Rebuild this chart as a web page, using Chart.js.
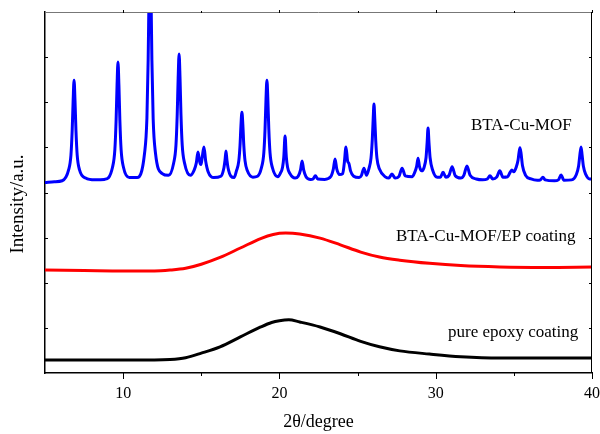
<!DOCTYPE html>
<html>
<head>
<meta charset="utf-8">
<script src="https://cdn.jsdelivr.net/npm/chart.js@4.4.1/dist/chart.umd.min.js"></script>
<style>
  html, body { margin: 0; padding: 0; background: #fff; }
  #wrap { width: 600px; height: 434px; position: relative; }
</style>
</head>
<body>
<div id="wrap"><canvas id="xrd"></canvas></div>
<script>
// 2θ ticks on the bottom axis
const xTicks = [10, 20, 30, 40];
const xMinorTicks = [15, 25, 35];
const yTicks = [1, 2, 3, 4, 5, 6, 7];

const seriesNames = ['BTA-Cu-MOF', 'BTA-Cu-MOF/EP coating', 'pure epoxy coating'];

// pure epoxy coating: [2θ, intensity (offset, a.u.)]
const epoxyScan = [
  [5.0, 0.29], [7.0, 0.29], [10.0, 0.29], [12.0, 0.29], [13.0, 0.3], [14.0, 0.34],
  [15.0, 0.44], [16.2, 0.58], [17.5, 0.8], [18.8, 1.02], [19.5, 1.12], [20.0, 1.16],
  [20.6, 1.18], [21.3, 1.13], [22.6, 1.02], [23.9, 0.87], [25.2, 0.7], [26.4, 0.58],
  [27.7, 0.49], [29.6, 0.42], [31.6, 0.36], [34.1, 0.33], [37.0, 0.33], [40.0, 0.33]
];

// BTA-Cu-MOF/EP coating
const compositeScan = [
  [5.0, 2.28], [7.5, 2.27], [10.0, 2.26], [12.0, 2.26], [13.0, 2.28], [14.0, 2.32],
  [15.0, 2.41], [16.2, 2.56], [17.5, 2.77], [18.8, 2.98], [19.6, 3.07], [20.4, 3.1],
  [21.3, 3.08], [22.6, 2.99], [23.9, 2.84], [25.2, 2.68], [26.4, 2.57], [27.7, 2.5],
  [29.6, 2.43], [31.6, 2.38], [34.1, 2.35], [37.0, 2.34], [40.0, 2.35]
];

// BTA-Cu-MOF powder
const mofScan = [
  [5.0, 4.22], [5.6, 4.24], [6.1, 4.26],
  [6.51, 4.5], [6.66, 4.83], [6.74, 5.38], [6.8, 6.03], [6.86, 6.49], [6.92, 6.03], [6.98, 5.38], [7.06, 4.83], [7.21, 4.5],
  [7.6, 4.32], [8.2, 4.28], [8.8, 4.29],
  [9.32, 4.56], [9.47, 4.95], [9.55, 5.6], [9.61, 6.37], [9.67, 6.89], [9.73, 6.37], [9.79, 5.6], [9.87, 4.95], [10.02, 4.56],
  [10.4, 4.33], [10.9, 4.33],
  [11.37, 4.87], [11.52, 5.64], [11.6, 6.93], [11.66, 8.47], [11.72, 9.5], [11.78, 8.47], [11.84, 6.93], [11.92, 5.64], [12.07, 4.87],
  [12.5, 4.42], [12.9, 4.38],
  [13.23, 4.65], [13.38, 5.05], [13.46, 5.73], [13.52, 6.53], [13.58, 7.07], [13.64, 6.53], [13.7, 5.73], [13.78, 5.05], [13.93, 4.65],
  [14.3, 4.38], [14.55, 4.5], [14.68, 4.65], [14.79, 4.9], [14.9, 4.68], [14.98, 4.62], [15.06, 4.78], [15.17, 5.01], [15.28, 4.7],
  [15.45, 4.45], [15.8, 4.33],
  [16.25, 4.36], [16.45, 4.55], [16.52, 4.72], [16.58, 4.92], [16.64, 4.72], [16.71, 4.55], [16.9, 4.36], [17.1, 4.33],
  [17.25, 4.48], [17.4, 4.7], [17.48, 5.05], [17.54, 5.5], [17.6, 5.78], [17.66, 5.5], [17.72, 5.05], [17.8, 4.7], [17.95, 4.48],
  [18.3, 4.34], [18.6, 4.36],
  [18.85, 4.55], [19.0, 4.87], [19.08, 5.41], [19.14, 6.06], [19.2, 6.49], [19.26, 6.06], [19.32, 5.41], [19.4, 4.87], [19.55, 4.55],
  [19.9, 4.35], [20.05, 4.42], [20.2, 4.56], [20.28, 4.79], [20.36, 5.25], [20.44, 4.79], [20.52, 4.56], [20.67, 4.42],
  [21.0, 4.32], [21.2, 4.36], [21.35, 4.5], [21.45, 4.7], [21.55, 4.5], [21.7, 4.35], [22.0, 4.29],
  [22.15, 4.3], [22.3, 4.37], [22.45, 4.3], [22.9, 4.29],
  [23.3, 4.36], [23.45, 4.52], [23.56, 4.74], [23.67, 4.52], [23.85, 4.4], [24.05, 4.42],
  [24.15, 4.65], [24.26, 5.01], [24.36, 4.7], [24.45, 4.64], [24.55, 4.48], [24.75, 4.36], [25.1, 4.33],
  [25.25, 4.38], [25.41, 4.54], [25.57, 4.38],
  [25.72, 4.52], [25.86, 4.76], [25.94, 5.16], [26.0, 5.64], [26.05, 5.96], [26.1, 5.64], [26.16, 5.16], [26.24, 4.76], [26.4, 4.52],
  [26.8, 4.34], [27.0, 4.32], [27.2, 4.41], [27.4, 4.32],
  [27.65, 4.36], [27.85, 4.54], [28.05, 4.37], [28.5, 4.35],
  [28.65, 4.44], [28.78, 4.58], [28.87, 4.76], [28.96, 4.58], [29.1, 4.48],
  [29.25, 4.55], [29.38, 4.77], [29.45, 5.1], [29.51, 5.43], [29.57, 5.1], [29.64, 4.77], [29.8, 4.5],
  [30.1, 4.34], [30.3, 4.34], [30.47, 4.45], [30.65, 4.34],
  [30.85, 4.38], [31.05, 4.57], [31.25, 4.37], [31.6, 4.32],
  [31.8, 4.38], [32.0, 4.59], [32.2, 4.38], [32.6, 4.3], [33.0, 4.28],
  [33.3, 4.3], [33.47, 4.37], [33.65, 4.3],
  [33.9, 4.34], [34.1, 4.48], [34.3, 4.34], [34.6, 4.35],
  [34.75, 4.44], [34.87, 4.5], [35.0, 4.46],
  [35.15, 4.56], [35.27, 4.72], [35.33, 4.88], [35.39, 4.99], [35.46, 4.87], [35.55, 4.6], [35.75, 4.38],
  [36.1, 4.3], [36.5, 4.27], [36.7, 4.28], [36.86, 4.34], [37.0, 4.28], [37.6, 4.26],
  [37.85, 4.28], [38.02, 4.39], [38.2, 4.27], [38.7, 4.28],
  [39.0, 4.4], [39.14, 4.58], [39.22, 4.82], [39.3, 5.01], [39.37, 4.82], [39.45, 4.58], [39.6, 4.4],
  [39.85, 4.3], [40.0, 4.3]
];

const toPoints = scan => scan.map(p => ({ x: p[0], y: p[1] }));

const serif = '"Liberation Serif", "Times New Roman", serif';

// frame, ticks and the curve labels
const framePlugin = {
  id: 'frame',
  afterDraw(chart) {
    const ctx = chart.ctx;
    const xs = chart.scales.x;
    const ys = chart.scales.y;
    const a = chart.chartArea;
    ctx.save();
    // top (grey) and right borders
    ctx.lineWidth = 1;
    ctx.strokeStyle = '#777';
    ctx.beginPath(); ctx.moveTo(a.left, a.top + 0.5); ctx.lineTo(a.right, a.top + 0.5); ctx.stroke();
    ctx.strokeStyle = '#000';
    ctx.beginPath(); ctx.moveTo(a.right - 0.5, a.top); ctx.lineTo(a.right - 0.5, a.bottom); ctx.stroke();

    // bottom ticks point outward, top ones tiny
    xTicks.forEach(v => {
      const px = Math.round(xs.getPixelForValue(v)) + 0.5;
      ctx.beginPath(); ctx.moveTo(px, a.bottom); ctx.lineTo(px, a.bottom + 6); ctx.stroke();
      ctx.beginPath(); ctx.moveTo(px, a.top + 1); ctx.lineTo(px, a.top - 2); ctx.stroke();
    });
    xMinorTicks.forEach(v => {
      const px = Math.round(xs.getPixelForValue(v)) + 0.5;
      ctx.beginPath(); ctx.moveTo(px, a.bottom); ctx.lineTo(px, a.bottom + 3); ctx.stroke();
      ctx.beginPath(); ctx.moveTo(px, a.top + 1); ctx.lineTo(px, a.top - 1); ctx.stroke();
    });
    // left / right ticks point inward
    yTicks.forEach(v => {
      const py = Math.round(ys.getPixelForValue(v)) + 0.5;
      ctx.beginPath(); ctx.moveTo(a.left, py); ctx.lineTo(a.left + 3, py); ctx.stroke();
      ctx.beginPath(); ctx.moveTo(a.right, py); ctx.lineTo(a.right - 3, py); ctx.stroke();
    });

    ctx.fillStyle = '#000';
    ctx.font = '17px ' + serif;
    ctx.textBaseline = 'middle';
    ctx.textAlign = 'left';
    ctx.fillText(seriesNames[0], 471, 126);
    ctx.fillText(seriesNames[1], 396, 237);
    ctx.fillText(seriesNames[2], 448, 333);

    // y title
    ctx.font = '19px ' + serif;
    ctx.textAlign = 'center';
    ctx.translate(18, 204);
    ctx.rotate(-Math.PI / 2);
    ctx.fillText('Intensity/a.u.', 0, 0);
    ctx.restore();
  }
};

new Chart(document.getElementById('xrd'), {
  type: 'line',
  data: {
    datasets: [
      { label: seriesNames[0], data: toPoints(mofScan), borderColor: '#0000ff', borderWidth: 3 },
      { label: seriesNames[1], data: toPoints(compositeScan), borderColor: '#ff0000', borderWidth: 3 },
      { label: seriesNames[2], data: toPoints(epoxyScan), borderColor: '#000000', borderWidth: 3 }
    ]
  },
  options: {
    responsive: true,
    maintainAspectRatio: false,
    animation: false,
    layout: { padding: { top: 12, right: 0, left: 0, bottom: 0 } },
    elements: {
      point: { radius: 0 },
      line: { cubicInterpolationMode: 'monotone', borderJoinStyle: 'round', borderCapStyle: 'round' }
    },
    plugins: {
      legend: { display: false },
      tooltip: { enabled: false }
    },
    scales: {
      x: {
        type: 'linear',
        position: 'bottom',
        min: 5,
        max: 40,
        afterBuildTicks: scale => { scale.ticks = xTicks.map(v => ({ value: v })); },
        afterFit: scale => { scale.height = 61; },
        grid: { display: false, drawTicks: true, tickLength: 11 },
        border: { display: true, color: '#000', width: 1.5 },
        ticks: {
          color: '#000',
          font: { family: serif, size: 16 },
          padding: 0,
          maxRotation: 0
        },
        title: {
          display: true,
          text: '2θ/degree',
          color: '#000',
          font: { family: serif, size: 18 },
          padding: { top: 0, bottom: 1 }
        }
      },
      y: {
        type: 'linear',
        position: 'left',
        min: 0,
        max: 8,
        afterFit: scale => { scale.width = 45; },
        grid: { display: false },
        border: { display: true, color: '#000', width: 1.5 },
        ticks: { display: false }
      }
    }
  },
  plugins: [framePlugin]
});
</script>
</body>
</html>
